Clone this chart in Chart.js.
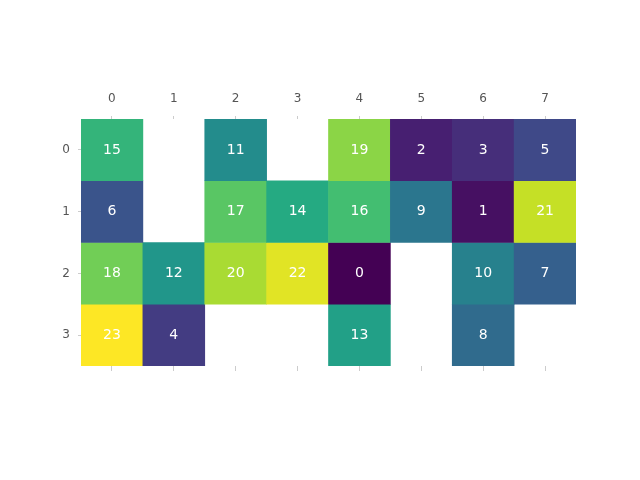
<!DOCTYPE html>
<html>
<head>
<meta charset="utf-8">
<script src="https://cdn.jsdelivr.net/npm/chart.js@4.4.1/dist/chart.umd.min.js"></script>
<style>
  html, body { margin: 0; padding: 0; background: #fff; }
  canvas { display: block; }
</style>
</head>
<body>
<canvas id="heat" width="640" height="480"></canvas>
<script>
// data
const colLabels = ['0', '1', '2', '3', '4', '5', '6', '7'];
const rowTicks = [0, 1, 2, 3];
const row0 = [15, null, 11, null, 19, 2, 3, 5];
const row1 = [6, null, 17, 14, 16, 9, 1, 21];
const row2 = [18, 12, 20, 22, 0, null, 10, 7];
const row3 = [23, 4, null, null, 13, null, 8, null];
const rows = [row0, row1, row2, row3];
const vMin = 0;
const vMax = 23;

// viridis stops
const viridis = ['#440154', '#482475', '#414487', '#355f8d', '#2a788e', '#21918c',
                 '#22a884', '#44bf70', '#7ad151', '#bddf26', '#fde725'];

function hexToRgb(h) {
    return [parseInt(h.slice(1, 3), 16), parseInt(h.slice(3, 5), 16), parseInt(h.slice(5, 7), 16)];
}

function colorFor(v) {
    if (v === null) return 'rgba(0,0,0,0)';
    const t = Math.min(1, Math.max(0, (v - vMin) / (vMax - vMin)));
    const pos = t * (viridis.length - 1);
    const i = Math.min(Math.floor(pos), viridis.length - 2);
    const f = pos - i;
    const a = hexToRgb(viridis[i]);
    const b = hexToRgb(viridis[i + 1]);
    const c = a.map((x, k) => Math.round(x + (b[k] - x) * f));
    return `rgb(${c[0]},${c[1]},${c[2]})`;
}

const datasets = rows.map((vals, r) => ({
    label: 'row ' + r,
    data: vals.map(v => v === null ? null : [r - 0.5, r + 0.5]),
    values: vals,
    backgroundColor: vals.map(colorFor),
    borderWidth: 0,
    barPercentage: 1,
    categoryPercentage: 1,
    grouped: false
}));

// cell numbers
const cellText = {
    id: 'cellText',
    afterDatasetsDraw(chart) {
        const ctx = chart.ctx;
        ctx.save();
        ctx.fillStyle = '#ffffff';
        ctx.font = '14px "DejaVu Sans"';
        ctx.textAlign = 'center';
        ctx.textBaseline = 'middle';
        chart.data.datasets.forEach((ds, di) => {
            const meta = chart.getDatasetMeta(di);
            meta.data.forEach((el, i) => {
                const v = ds.values[i];
                if (v === null) return;
                const p = el.getCenterPoint();
                ctx.fillText(String(v), p.x, p.y);
            });
        });
        ctx.restore();
    }
};

const tickFont = { family: 'DejaVu Sans', size: 12 };
const tickGrid = { offset: false, drawOnChartArea: false, drawTicks: true, tickLength: 3, tickColor: '#cccccc' };

new Chart(document.getElementById('heat'), {
    type: 'bar',
    data: { labels: colLabels, datasets: datasets },
    options: {
        responsive: false,
        animation: false,
        events: [],
        layout: { padding: { left: 0, right: 64, top: 0, bottom: 0 } },
        plugins: { legend: { display: false }, tooltip: { enabled: false } },
        scales: {
            x: {
                type: 'category',
                position: 'top',
                offset: true,
                grid: tickGrid,
                border: { display: false },
                ticks: { font: tickFont, color: '#555555', padding: 10, maxRotation: 0 },
                afterFit: s => { s.height = 119; }
            },
            x2: {
                type: 'category',
                position: 'bottom',
                offset: true,
                grid: { offset: false, drawOnChartArea: false, drawTicks: true, tickLength: 5, tickColor: '#cccccc' },
                border: { display: false },
                ticks: { display: true, color: 'rgba(0,0,0,0)', font: tickFont },
                afterFit: s => { s.height = 114; }
            },
            y: {
                type: 'linear',
                reverse: true,
                min: -0.5,
                max: 3.5,
                grid: tickGrid,
                border: { display: false },
                ticks: { font: tickFont, color: '#555555', padding: 8 },
                afterBuildTicks: s => { s.ticks = rowTicks.map(v => ({ value: v })); },
                afterFit: s => { s.width = 81; }
            }
        }
    },
    plugins: [cellText]
});
</script>
</body>
</html>
